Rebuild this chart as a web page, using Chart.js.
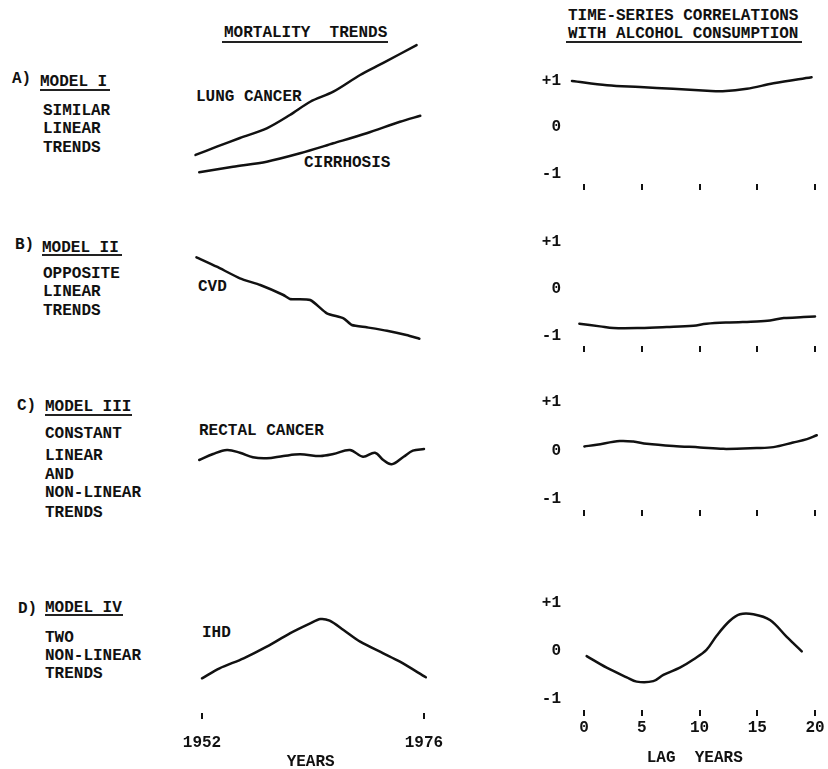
<!DOCTYPE html>
<html><head><meta charset="utf-8">
<script src="https://cdn.jsdelivr.net/npm/chart.js@4.4.1/dist/chart.umd.min.js"></script>
<style>
html,body{margin:0;padding:0;background:#fff;width:828px;height:769px;overflow:hidden;position:relative;}
.t{position:absolute;font:bold 16px "Liberation Mono",monospace;line-height:16px;color:#111;white-space:pre;}
.u{position:absolute;height:0;border-top:2px solid #222;}
canvas{position:absolute;}
</style></head><body>
<script>
// ---- tick labels ----
const yearTicks = [1952, 1976];
const lagTicks = [0, 5, 10, 15, 20];
const corrTicks = [-1, 0, 1];

// ---- Mortality trends (relative level, arbitrary units) ----
const lungYears = [1951.3,1953.6,1956.1,1959.0,1961.5,1963.7,1966.2,1969.1,1971.6,1975.2];
const lungValues = [1.79,2.38,3.0,3.69,4.64,5.59,6.31,7.5,8.36,9.64];
const cirrhosisYears = [1951.7,1955.35,1959.0,1962.6,1966.2,1969.8,1973.4,1975.6];
const cirrhosisValues = [0.55,0.95,1.31,1.91,2.62,3.34,4.16,4.59];
const cvdYears = [1951.4,1953.6,1956.1,1958.3,1960.8,1961.5,1963.7,1965.5,1967.3,1968.2,1969.8,1972.0,1974.1,1975.5];
const cvdValues = [9.27,8.33,7.17,6.5,5.5,5.1,5.0,3.67,3.17,2.5,2.27,1.93,1.5,1.13];
const rectalYears = [1951.7,1953.2,1954.7,1956.1,1957.5,1959.0,1960.8,1962.6,1964.8,1966.2,1968.0,1969.4,1970.7,1971.6,1972.5,1973.8,1974.8,1976.0];
const rectalValues = [4.0,4.6,5.0,4.73,4.27,4.17,4.4,4.57,4.4,4.6,5.0,4.33,4.73,4.0,3.57,4.33,4.93,5.1];
const ihdYears = [1952.0,1953.9,1956.5,1959.0,1961.5,1963.7,1964.8,1965.8,1967.3,1969.1,1971.6,1973.4,1976.2];
const ihdValues = [3.47,4.47,5.47,6.63,7.97,8.97,9.4,9.23,8.3,7.13,5.97,5.13,3.57];

// ---- Time-series correlations with alcohol consumption ----
const corrALags = [-1.04,2.0,4.85,7.7,10.65,12.0,14.1,16.4,19.7];
const corrAValues = [1.0,0.91,0.87,0.83,0.79,0.78,0.83,0.95,1.08];
const corrBLags = [-0.4,1.39,2.54,4.85,7.16,9.47,10.6,12.6,14.95,16.1,17.3,19.0,20.0];
const corrBValues = [-0.745,-0.801,-0.837,-0.837,-0.816,-0.787,-0.745,-0.716,-0.695,-0.674,-0.624,-0.603,-0.589];
const corrCLags = [0.03,1.1,3.1,4.27,5.43,7.73,10.04,12.06,14.95,16.4,18.1,19.3,20.15];
const corrCValues = [0.09,0.125,0.20,0.19,0.146,0.10,0.07,0.04,0.056,0.076,0.17,0.24,0.32];
const corrDLags = [0.23,1.96,3.7,4.56,6.0,6.87,8.3,9.47,10.6,11.5,12.6,13.5,14.66,16.1,17.55,18.85];
const corrDValues = [-0.10,-0.34,-0.54,-0.63,-0.62,-0.49,-0.34,-0.17,0.03,0.33,0.63,0.77,0.77,0.65,0.30,0.0];

Chart.defaults.font = {family: '"Liberation Mono", monospace', size: 16, weight: 'bold'};
Chart.defaults.color = '#111';

function txt(s, x, yc) {
  const d = document.createElement('div');
  d.className = 't'; d.textContent = s;
  d.style.left = x + 'px'; d.style.top = (yc - 7) + 'px';
  document.body.appendChild(d);
}
function uline(x1, x2, y) {
  const d = document.createElement('div');
  d.className = 'u';
  d.style.left = x1 + 'px'; d.style.width = (x2 - x1) + 'px'; d.style.top = y + 'px';
  document.body.appendChild(d);
}
function makeCanvas(left, top, w, h) {
  const c = document.createElement('canvas');
  c.width = w; c.height = h;
  c.style.left = left + 'px'; c.style.top = top + 'px';
  c.style.width = w + 'px'; c.style.height = h + 'px';
  document.body.appendChild(c);
  return c;
}
function ds(xs, ys, tension) {
  return {data: xs.map((v, i) => ({x: v, y: ys[i]})), borderColor: '#111', borderWidth: 2.5,
    pointRadius: 0, tension: tension, fill: false, clip: false, borderCapStyle: 'round', borderJoinStyle: 'round'};
}
const base = {responsive: false, animation: false, events: [], plugins: {legend: {display: false}, tooltip: {enabled: false}}};

function trendChart(top, plotH, yMax, datasets, withAxis) {
  const axisH = withAxis ? 59 : 0;
  const c = makeCanvas(100, top, 360, plotH + axisH);
  new Chart(c, {type: 'line', data: {datasets: datasets}, options: Object.assign({}, base, {
    layout: {padding: {left: 92.75, right: 31.4, top: 0, bottom: 0}},
    scales: {
      x: {type: 'linear', min: 1951, max: 1976.5, display: withAxis,
        afterBuildTicks: s => { s.ticks = yearTicks.map(v => ({value: v})); },
        afterFit: s => { s.height = axisH; },
        grid: {display: true, drawOnChartArea: false, drawTicks: true, tickLength: 6, lineWidth: 2, color: '#111'},
        border: {display: false},
        ticks: {padding: 14.4, autoSkip: false, maxRotation: 0, callback: v => String(v)},
        title: {display: true, text: 'YEARS', padding: 0}},
      y: {display: false, min: 0, max: yMax}
    }})});
}

function corrChart(T, H, xs, ys, withLabels) {
  const axisH = withLabels ? 58 : 10;
  const padTop = 25, padBottom = withLabels ? 0 : 12;
  const c = makeCanvas(500, T - padTop, 340, padTop + H + axisH + padBottom);
  new Chart(c, {type: 'line', data: {datasets: [ds(xs, ys, 0.35)]}, options: Object.assign({}, base, {
    layout: {padding: {left: 0, right: 21.5, top: padTop, bottom: padBottom}},
    scales: {
      x: {type: 'linear', min: -1.125, max: 20.3,
        afterBuildTicks: s => { s.ticks = lagTicks.map(v => ({value: v})); },
        afterFit: s => { s.height = axisH; },
        grid: {display: true, drawOnChartArea: false, drawTicks: true, tickLength: 6, lineWidth: 2, color: '#111'},
        border: {display: false},
        ticks: {display: withLabels, padding: 2, autoSkip: false, maxRotation: 0, callback: v => String(v)},
        title: {display: withLabels, text: 'LAG  YEARS', padding: 0}},
      y: {type: 'linear', min: -1.22, max: 1.15,
        afterBuildTicks: s => { s.ticks = corrTicks.map(v => ({value: v})); },
        afterFit: s => { s.width = 71; },
        grid: {display: false, drawTicks: false},
        border: {display: false},
        ticks: {padding: 10, callback: v => (v === 1 ? '+1' : String(v))}}
    }})});
}

// ---- headings ----
txt('MORTALITY  TRENDS', 224, 32); uline(222, 388, 41);
txt('TIME-SERIES CORRELATIONS', 568, 15);
txt('WITH ALCOHOL CONSUMPTION', 568, 33); uline(566, 802, 41);

// ---- A ----
txt('A)', 12, 78); txt('MODEL I', 40, 81); uline(40, 110, 89);
txt('SIMILAR', 43, 110); txt('LINEAR', 43, 128); txt('TRENDS', 43, 147);
txt('LUNG CANCER', 196, 96); txt('CIRRHOSIS', 304, 162);
trendChart(40, 140, 10, [ds(lungYears, lungValues, 0.3), ds(cirrhosisYears, cirrhosisValues, 0.3)], false);
corrChart(74, 110, corrALags, corrAValues, false);

// ---- B ----
txt('B)', 15, 244); txt('MODEL II', 42, 247); uline(42, 122, 254);
txt('OPPOSITE', 43, 273); txt('LINEAR', 43, 291); txt('TRENDS', 43, 310);
txt('CVD', 198, 286);
trendChart(250, 100, 10, [ds(cvdYears, cvdValues, 0.2)], false);
corrChart(235, 111, corrBLags, corrBValues, false);

// ---- C ----
txt('C)', 17, 405); txt('MODEL III', 45, 406); uline(45, 132, 414);
txt('CONSTANT', 45, 433); txt('LINEAR', 45, 455); txt('AND', 45, 474);
txt('NON-LINEAR', 45, 492); txt('TRENDS', 45, 512);
txt('RECTAL CANCER', 199, 430);
trendChart(420, 80, 8, [ds(rectalYears, rectalValues, 0.35)], false);
corrChart(395, 115, corrCLags, corrCValues, false);

// ---- D ----
txt('D)', 18, 608); txt('MODEL IV', 45, 607); uline(45, 123, 614);
txt('TWO', 45, 637); txt('NON-LINEAR', 45, 655); txt('TRENDS', 45, 673);
txt('IHD', 202, 632);
trendChart(603, 110, 11, [ds(ihdYears, ihdValues, 0.3)], true);
corrChart(596, 114, corrDLags, corrDValues, true);
</script>
</body></html>
